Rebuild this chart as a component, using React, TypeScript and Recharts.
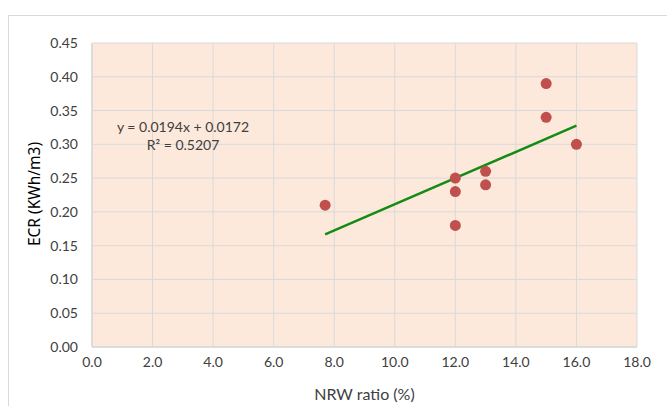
import React from 'react';
import { ScatterChart, Scatter, XAxis, YAxis, CartesianGrid } from 'recharts';

const nrwRatio = [7.7, 12, 12, 12, 13, 13, 15, 15, 16];
const ecr = [0.21, 0.25, 0.23, 0.18, 0.26, 0.24, 0.39, 0.34, 0.30];
const trendX = [7.7, 16.0];
const trendY = [0.1666, 0.3276];
const xTicks = [0, 2, 4, 6, 8, 10, 12, 14, 16, 18];
const yTicks = [0, 0.05, 0.1, 0.15, 0.2, 0.25, 0.3, 0.35, 0.4, 0.45];
const equationLines = ['y = 0.0194x + 0.0172', 'R² = 0.5207'];
const yAxisTitle = 'ECR (KWh/m3)';
const xAxisTitle = 'NRW ratio (%)';

const points = nrwRatio.map((x, i) => ({ x, y: ecr[i] }));
const trend = trendX.map((x, i) => ({ x, y: trendY[i] }));

const FONT = 'Lato, "Open Sans", sans-serif';
const GRID = '#D9D9D9';

export default function App() {
  return (
    <div style={{ position: 'fixed', left: 0, top: 0, width: 667, height: 406, overflow: 'hidden', background: '#fff' }}>
      <div style={{ position: 'absolute', left: 8, top: 15, width: 720, height: 460, border: '1.5px solid #D9D9D9', boxSizing: 'border-box' }} />
      <div style={{ position: 'absolute', left: 0, top: 0 }}>
        <ScatterChart width={667} height={406} margin={{ top: 43, right: 30, bottom: 0, left: 0 }}>
          <CartesianGrid stroke={GRID} strokeWidth={1} fill="#FCE9DB" fillOpacity={1} horizontalValues={yTicks} verticalValues={xTicks} />
          <XAxis
            type="number"
            dataKey="x"
            domain={[0, 18]}
            ticks={xTicks}
            tickFormatter={(v: number) => v.toFixed(1)}
            height={59}
            tickSize={0}
            tickMargin={10}
            axisLine={{ stroke: GRID, strokeWidth: 1.5 }}
            tickLine={false}
            tick={{ fill: '#404040', fontSize: 14, fontFamily: FONT }}
            label={{ value: xAxisTitle, position: 'insideBottom', offset: 6, fill: '#404040', fontSize: 16, fontFamily: FONT }}
          />
          <YAxis
            type="number"
            dataKey="y"
            domain={[0, 0.45]}
            ticks={yTicks}
            tickFormatter={(v: number) => v.toFixed(2)}
            width={92}
            tickSize={0}
            tickMargin={14}
            axisLine={{ stroke: GRID, strokeWidth: 1.5 }}
            tickLine={false}
            tick={{ fill: '#404040', fontSize: 14, fontFamily: FONT }}
          />
          <Scatter data={trend} line={{ stroke: '#148C14', strokeWidth: 2.5 }} shape={() => null} isAnimationActive={false} />
          <Scatter data={points} fill="#C0504D" shape={(p: any) => <circle cx={p.cx} cy={p.cy} r={5.5} fill="#C0504D" />} isAnimationActive={false} />
        </ScatterChart>
      </div>
      <svg width={667} height={406} style={{ position: 'absolute', left: 0, top: 0, pointerEvents: 'none' }}>
        <text x={183} y={132} textAnchor="middle" fontFamily={FONT} fontSize={14} fill="#404040">{equationLines[0]}</text>
        <text x={183} y={150} textAnchor="middle" fontFamily={FONT} fontSize={14} fill="#404040">{equationLines[1]}</text>
        <text x={0} y={0} transform="translate(40,194) rotate(-90)" textAnchor="middle" style={{ fontFamily: '"Noto Sans", "Open Sans", sans-serif', fontSize: 15.5 }} fill="#000">{yAxisTitle}</text>
      </svg>
    </div>
  );
}
